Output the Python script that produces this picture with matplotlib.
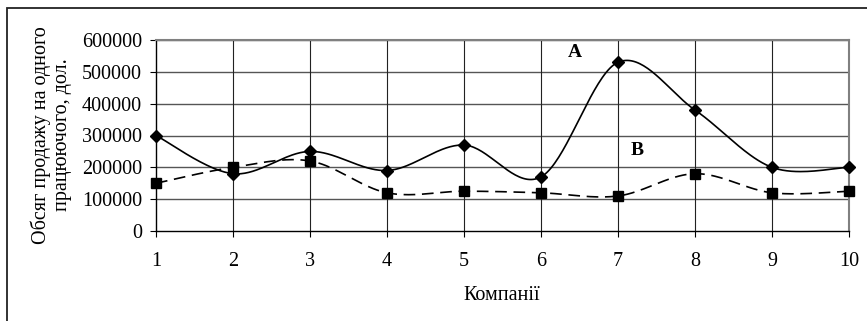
import numpy as np
import matplotlib
matplotlib.use("Agg")
import matplotlib.pyplot as plt
from matplotlib.patches import Rectangle

companies = [1, 2, 3, 4, 5, 6, 7, 8, 9, 10]
series_a = [300000, 180000, 250000, 190000, 270000, 170000, 530000, 380000, 200000, 200000]
series_b = [150000, 200000, 220000, 120000, 125000, 120000, 110000, 180000, 120000, 125000]
y_ticks = [0, 100000, 200000, 300000, 400000, 500000, 600000]
y_label = "Обсяг продажу на одного\nпрацюючого, дол."
x_label = "Компанії"

plt.rcParams['font.family'] = ['Liberation Serif', 'DejaVu Serif']

FS = 14.5


def smooth(xs, ys, n=40):
    """Excel-like smoothed line: cubic Bezier segments with Catmull-Rom control points."""
    P = np.column_stack([xs, ys]).astype(float)
    m = len(P)
    out = []
    for i in range(m - 1):
        p0 = P[i - 1] if i > 0 else P[i]
        p1 = P[i]
        p2 = P[i + 1]
        p3 = P[i + 2] if i + 2 < m else P[i + 1]
        c1 = p1 + (p2 - p0) / 6.0
        c2 = p2 - (p3 - p1) / 6.0
        t = np.linspace(0, 1, n)[:, None]
        seg = ((1 - t) ** 3) * p1 + 3 * ((1 - t) ** 2) * t * c1 + 3 * (1 - t) * t ** 2 * c2 + t ** 3 * p2
        out.append(seg if i == 0 else seg[1:])
    out = np.vstack(out)
    return out[:, 0], out[:, 1]


W, H = 867, 321
fig = plt.figure(figsize=(W / 100, H / 100), dpi=100)

# outer frame
fig.patches.append(Rectangle((7 / W, -0.1), 1.2, (H - 8) / H + 0.1, transform=fig.transFigure,
                             fill=False, edgecolor='#222222', linewidth=1.3, clip_on=False))

ax = fig.add_axes([156 / W, (H - 231) / H, (849 - 156) / W, (231 - 40) / H])
ax.set_xlim(1, 10)
ax.set_ylim(0, 600000)
ax.set_xticks(companies)
ax.set_yticks(y_ticks)
ax.set_xticklabels([str(c) for c in companies], fontsize=FS)
ax.set_yticklabels([str(v) for v in y_ticks], fontsize=FS)
ax.tick_params(axis='both', direction='out', length=4, width=0.8, color='black')
ax.tick_params(axis='x', pad=11)
ax.tick_params(axis='y', pad=6)

for v in y_ticks[1:]:
    ax.axhline(v, color='#555555', linewidth=1.0, zorder=1)
for c in companies[1:-1]:
    ax.axvline(c, color='#222222', linewidth=0.8, zorder=1)

for side in ['top', 'right']:
    ax.spines[side].set_color('#808080')
    ax.spines[side].set_linewidth(1.5)
for side in ['left', 'bottom']:
    ax.spines[side].set_color('black')
    ax.spines[side].set_linewidth(1.0)

xa, ya = smooth(companies, series_a)
xb, yb = smooth(companies, series_b)
ax.plot(xa, ya, color='black', linewidth=1.2, zorder=3, clip_on=False)
ax.plot(xb, yb, color='black', linewidth=1.2, linestyle=(0, (7, 4)), zorder=3, clip_on=False)
ax.plot(companies, series_a, linestyle='none', marker='D', markersize=6, color='black', zorder=4, clip_on=False)
ax.plot(companies, series_b, linestyle='none', marker='s', markersize=7.5, color='black', zorder=4, clip_on=False)

ax.text(6.44, 562000, "A", fontsize=14, fontweight='bold', ha='center', va='center')
ax.text(7.25, 254000, "B", fontsize=14, fontweight='bold', ha='center', va='center')

fig.text(51 / W, 1 - 135 / H, y_label, rotation=90, ha='center', va='center',
         fontsize=FS, multialignment='center', linespacing=1.15)
fig.text(502 / W, 1 - 295 / H, x_label, ha='center', va='center', fontsize=FS)

fig.savefig("out.png", dpi=100)
